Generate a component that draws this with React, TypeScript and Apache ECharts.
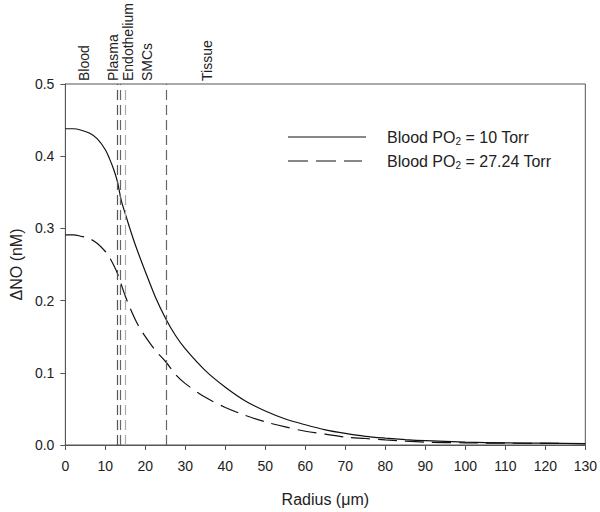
import React, { useEffect, useRef } from "react";
import * as echarts from "echarts";

const radiusSolid = [0, 2, 4, 6, 8, 10, 11, 12, 13, 14, 15, 16, 17.5, 20, 22.5, 25, 27.5, 30, 35, 40, 45, 50, 55, 60, 65, 70, 75, 80, 85, 90, 100, 110, 120, 130];
const noSolid = [0.438, 0.438, 0.436, 0.432, 0.424, 0.409, 0.397, 0.383, 0.365, 0.338, 0.32, 0.302, 0.277, 0.24, 0.205, 0.176, 0.152, 0.133, 0.103, 0.08, 0.061, 0.047, 0.036, 0.028, 0.021, 0.016, 0.012, 0.0095, 0.0075, 0.006, 0.004, 0.003, 0.0025, 0.002];

const radiusDashed = [0, 2, 4, 6, 8, 10, 11, 12, 13, 14, 15, 16, 18, 20, 22.5, 25, 27.5, 30, 35, 40, 45, 50, 55, 60, 65, 70, 75, 80, 90, 100, 110, 130];
const noDashed = [0.291, 0.291, 0.289, 0.286, 0.279, 0.268, 0.26, 0.25, 0.238, 0.222, 0.206, 0.192, 0.168, 0.15, 0.131, 0.116, 0.098, 0.085, 0.066, 0.052, 0.041, 0.032, 0.025, 0.019, 0.015, 0.011, 0.009, 0.007, 0.004, 0.003, 0.0025, 0.002];

const boundaryRadii = [12.9, 13.7, 15, 25.2];
const boundaryColors = ["#555555", "#666666", "#aaaaaa", "#666666"];

const regionNames = ["Blood", "Plasma", "Endothelium", "SMCs", "Tissue"];
const regionRadii = [4.7, 11.8, 15.6, 20.4, 35.4];

const seriesNames = ["Blood PO{sub|2} = 10 Torr", "Blood PO{sub|2} = 27.24 Torr"];
const seriesDash: (number[] | null)[] = [null, [20, 8]];

const FONT = "Liberation Sans, Arial, sans-serif";

export default function App() {
  const ref = useRef<HTMLDivElement>(null);
  useEffect(() => {
    document.body.style.margin = "0";
    if (!ref.current) return;
    const chart = echarts.init(ref.current, null, { renderer: "svg" });
    const option: any = {
      animation: false,
      backgroundColor: "#ffffff",
      textStyle: { fontFamily: FONT },
      grid: {
        left: 63,
        right: 13,
        top: 84,
        bottom: 64,
        show: true,
        borderColor: "#555",
        borderWidth: 1,
        backgroundColor: "transparent",
      },
      xAxis: {
        type: "value",
        min: 0,
        max: 130,
        interval: 10,
        name: "Radius (\u03bcm)",
        nameLocation: "middle",
        nameGap: 46,
        nameTextStyle: { fontSize: 16, color: "#222", fontFamily: FONT },
        axisLine: { lineStyle: { color: "#555" } },
        axisTick: { show: true, length: 5, lineStyle: { color: "#555" } },
        axisLabel: { fontSize: 14, color: "#222", margin: 14, fontFamily: FONT },
        splitLine: { show: false },
      },
      yAxis: {
        type: "value",
        min: 0,
        max: 0.5,
        interval: 0.1,
        name: "\u0394NO (nM)",
        nameLocation: "middle",
        nameGap: 38,
        nameTextStyle: { fontSize: 16, color: "#222", fontFamily: FONT },
        axisLine: { show: true, lineStyle: { color: "#555" } },
        axisTick: { show: true, length: 5, lineStyle: { color: "#555" } },
        axisLabel: { fontSize: 14, color: "#222", margin: 11, fontFamily: FONT, formatter: (v: number) => v.toFixed(1) },
        splitLine: { show: false },
      },
      series: [
        {
          name: seriesNames[0],
          type: "line",
          data: radiusSolid.map((r, i) => [r, noSolid[i]]),
          showSymbol: false,
          symbol: "none",
          smooth: 0.3,
          lineStyle: { color: "#111", width: 1.2, type: "solid" },
          z: 3,
        },
        {
          name: seriesNames[1],
          type: "line",
          data: radiusDashed.map((r, i) => [r, noDashed[i]]),
          showSymbol: false,
          symbol: "none",
          smooth: 0.3,
          lineStyle: { color: "#111", width: 1.2, type: [19, 8] },
          z: 3,
        },
        {
          name: "boundaries",
          type: "line",
          data: [],
          markLine: {
            silent: true,
            symbol: "none",
            label: { show: false },
            data: boundaryRadii.map((r, i) => ({
              xAxis: r,
              lineStyle: { color: boundaryColors[i], width: 1.2, type: [10, 5] },
            })),
          },
          z: 2,
        },
      ],
    };
    chart.setOption(option);
    const graphics: any[] = regionNames.map((name, i) => {
      const p = chart.convertToPixel({ gridIndex: 0 }, [regionRadii[i], 0.5]);
      return {
        type: "text",
        x: p[0],
        y: p[1] - 3,
        rotation: Math.PI / 2,
        style: {
          text: name,
          fontSize: 14,
          fontFamily: FONT,
          fill: "#222",
          align: "left",
          verticalAlign: "middle",
        },
      };
    });
    seriesNames.forEach((name, i) => {
      const y = 137 + i * 24;
      graphics.push({
        type: "line",
        shape: { x1: 288, y1: y, x2: i === 0 ? 366 : 362, y2: y },
        style: { stroke: "#111", lineWidth: 1.2, lineDash: seriesDash[i] || undefined },
      });
      graphics.push({
        type: "text",
        x: 387,
        y: y,
        style: {
          text: name,
          fontSize: 16,
          fontFamily: FONT,
          fill: "#222",
          verticalAlign: "middle",
          rich: {
            sub: { fontSize: 10, fontFamily: FONT, fill: "#222", padding: [9, 0, 0, 0] },
          },
        },
      });
    });
    chart.setOption({ graphic: graphics });
    return () => chart.dispose();
  }, []);
  return <div ref={ref} style={{ width: 600, height: 512 }} />;
}
